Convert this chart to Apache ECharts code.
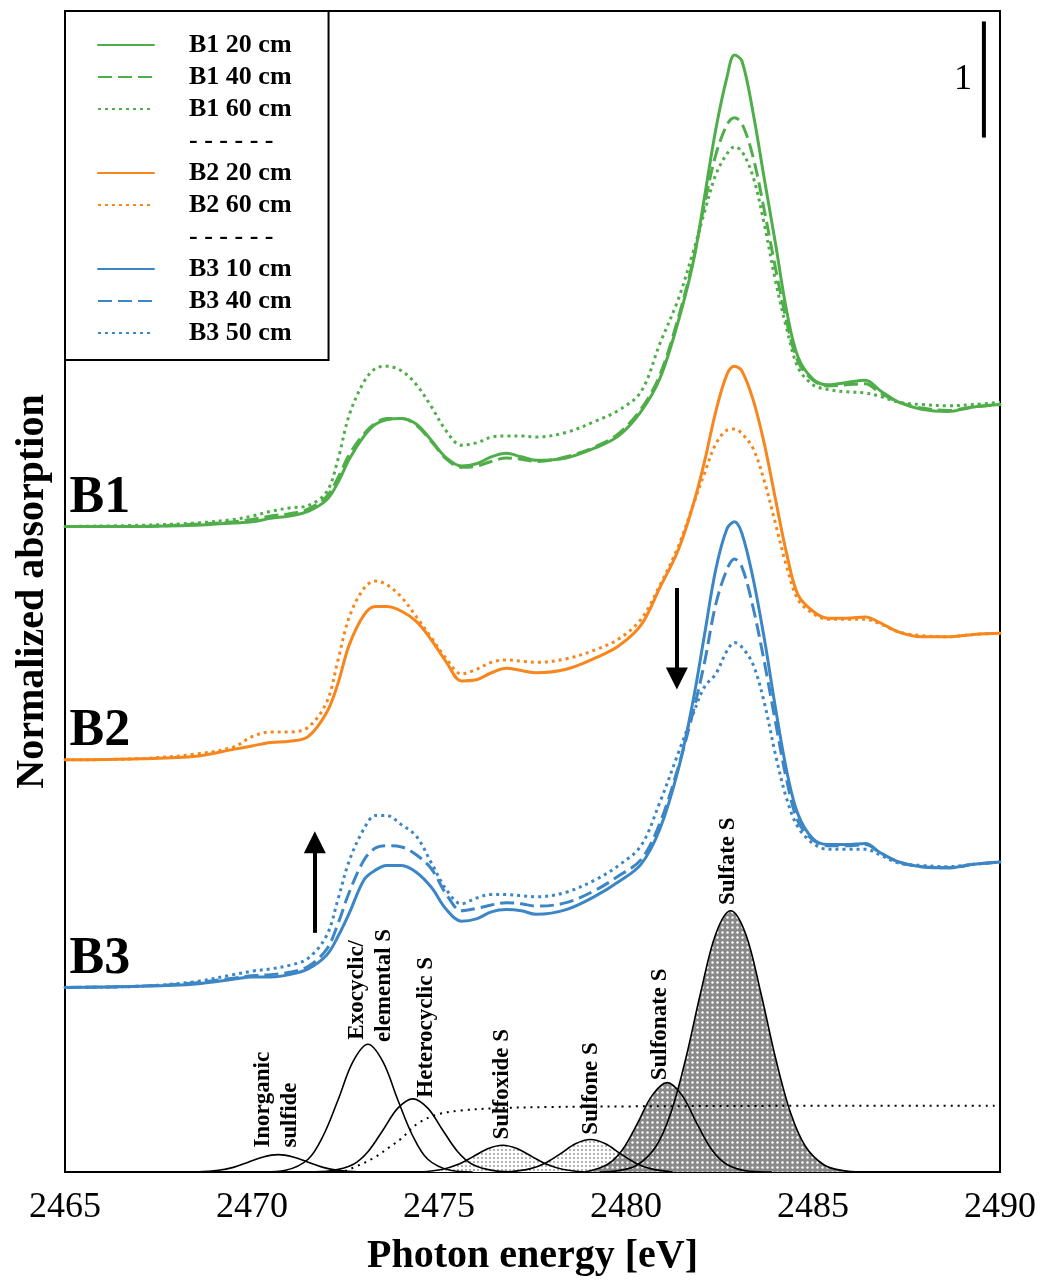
<!DOCTYPE html>
<html>
<head>
<meta charset="utf-8">
<script src="https://cdn.jsdelivr.net/npm/echarts/dist/echarts.min.js"></script>
<style>
html,body{margin:0;padding:0;background:#fff;}
#chart{width:1040px;height:1280px;}
</style>
</head>
<body>
<div id="chart"></div>
<script>
// ---------------- DATA ----------------
const xTicks = [2465, 2470, 2475, 2480, 2485, 2490];

// common photon-energy grid (eV) for the measured spectra
const energy = [2465, 2467, 2468.5, 2469.5, 2470, 2470.5, 2471, 2471.5, 2472, 2472.3, 2472.6, 2473, 2473.3, 2473.6, 2474, 2474.4, 2474.8, 2475.2, 2475.6, 2476, 2476.4, 2476.8, 2477.2, 2477.6, 2478.4, 2479.2, 2479.8, 2480.4, 2480.9, 2481.4, 2481.8, 2482.1, 2482.4, 2482.7, 2482.9, 2483.1, 2483.4, 2483.7, 2484, 2484.3, 2484.6, 2485, 2485.4, 2485.9, 2486.4, 2486.8, 2487.3, 2487.9, 2488.6, 2489.3, 2490];

// normalized absorption of each sample (before vertical offset)
const B1_20 = [0.00,0.00,0.01,0.03,0.04,0.07,0.09,0.13,0.23,0.38, 0.58,0.78,0.88,0.92,0.93,0.88,0.74,0.59,0.52,0.54, 0.60,0.63,0.60,0.57,0.59,0.68,0.78,0.99,1.27,1.77, 2.28,2.84,3.42,3.87,4.06,4.01,3.56,2.99,2.43,1.85, 1.46,1.27,1.22,1.24,1.26,1.17,1.07,1.01,0.99,1.03, 1.05];
const B1_40 = [0.00,0.00,0.02,0.04,0.06,0.09,0.11,0.15,0.26,0.42, 0.62,0.80,0.89,0.93,0.93,0.87,0.73,0.58,0.51,0.52, 0.56,0.59,0.58,0.56,0.60,0.69,0.80,1.01,1.30,1.80, 2.30,2.78,3.20,3.46,3.52,3.47,3.18,2.72,2.22,1.76, 1.42,1.26,1.21,1.22,1.23,1.15,1.07,1.02,1.00,1.03, 1.05];
const B1_60 = [0.00,0.01,0.03,0.06,0.09,0.13,0.16,0.18,0.30,0.58, 0.96,1.25,1.36,1.38,1.34,1.22,1.03,0.82,0.70,0.72, 0.77,0.78,0.78,0.77,0.81,0.91,1.00,1.16,1.57,1.96, 2.37,2.71,3.03,3.21,3.27,3.23,3.01,2.60,2.11,1.70, 1.37,1.22,1.18,1.16,1.15,1.12,1.07,1.05,1.04,1.05, 1.07];
const B2_20 = [0.00,0.01,0.03,0.09,0.12,0.15,0.16,0.20,0.41,0.66, 0.99,1.25,1.32,1.32,1.28,1.19,1.03,0.84,0.68,0.69, 0.75,0.79,0.77,0.75,0.78,0.88,0.98,1.16,1.48,1.81, 2.20,2.57,3.00,3.32,3.39,3.35,3.10,2.72,2.24,1.77, 1.42,1.28,1.22,1.22,1.23,1.18,1.10,1.06,1.06,1.08, 1.09];
const B2_60 = [0.00,0.01,0.05,0.11,0.20,0.24,0.24,0.28,0.50,0.86, 1.23,1.48,1.54,1.51,1.40,1.23,1.05,0.87,0.74,0.78, 0.84,0.86,0.85,0.84,0.87,0.95,1.04,1.21,1.50,1.84, 2.20,2.47,2.72,2.84,2.85,2.81,2.68,2.40,2.03,1.66, 1.38,1.26,1.21,1.21,1.21,1.17,1.10,1.07,1.06,1.08, 1.09];
const B3_10 = [0.00,0.01,0.03,0.07,0.09,0.09,0.11,0.16,0.28,0.44, 0.64,0.93,1.01,1.05,1.05,0.99,0.86,0.67,0.57,0.59, 0.65,0.67,0.66,0.63,0.67,0.79,0.91,1.06,1.36,1.88, 2.48,3.04,3.60,3.95,4.01,3.91,3.52,3.00,2.40,1.86, 1.49,1.28,1.23,1.23,1.24,1.16,1.08,1.04,1.03,1.06, 1.08];
const B3_40 = [0.00,0.01,0.04,0.08,0.10,0.11,0.13,0.18,0.33,0.55, 0.82,1.10,1.20,1.22,1.21,1.14,1.02,0.80,0.66,0.68, 0.71,0.73,0.72,0.70,0.73,0.84,0.96,1.10,1.41,1.90, 2.38,2.80,3.30,3.60,3.69,3.62,3.27,2.80,2.28,1.78, 1.43,1.27,1.22,1.22,1.23,1.16,1.08,1.04,1.03,1.06, 1.08];
const B3_50 = [0.00,0.01,0.05,0.11,0.14,0.16,0.19,0.25,0.45,0.76, 1.09,1.37,1.48,1.48,1.40,1.30,1.07,0.84,0.72,0.77, 0.80,0.80,0.79,0.78,0.82,0.93,1.05,1.22,1.59,2.02, 2.36,2.59,2.70,2.90,2.97,2.93,2.78,2.45,2.00,1.62, 1.38,1.24,1.19,1.19,1.19,1.14,1.07,1.05,1.04,1.06, 1.08];

// vertical offsets of the stacked spectra (absorption units)
const offsetB1 = 5.56;
const offsetB2 = 3.55;
const offsetB3 = 1.59;

// fitted components (bottom), [eV, absorption]
const compInorganic = [[2468.5,0],[2469.1,0.015],[2469.5,0.04],[2469.9,0.085],[2470.3,0.13],[2470.7,0.15],[2471.1,0.13],[2471.5,0.085],[2471.9,0.04],[2472.3,0.015],[2472.9,0]];
const compExocyclic = [[2470.3,0],[2470.9,0.015],[2471.5,0.11],[2471.9,0.31],[2472.3,0.62],[2472.7,0.95],[2473.1,1.10],[2473.5,0.95],[2473.9,0.62],[2474.3,0.31],[2474.7,0.11],[2475.3,0.015],[2475.9,0]];
const compHeterocyclic = [[2471.5,0],[2472.1,0.01],[2472.7,0.065],[2473.1,0.175],[2473.5,0.36],[2473.9,0.55],[2474.3,0.63],[2474.7,0.55],[2475.1,0.36],[2475.5,0.175],[2475.9,0.065],[2476.5,0.01],[2477.1,0]];
const compSulfoxide = [[2474.5,0],[2475.1,0.024],[2475.5,0.064],[2475.9,0.13],[2476.3,0.20],[2476.7,0.23],[2477.1,0.20],[2477.5,0.13],[2477.9,0.064],[2478.3,0.024],[2478.9,0]];
const compSulfone = [[2476.85,0],[2477.45,0.029],[2477.85,0.078],[2478.25,0.158],[2478.65,0.243],[2479.05,0.28],[2479.45,0.243],[2479.85,0.158],[2480.25,0.078],[2480.65,0.029],[2481.25,0]];
const compSulfonate = [[2478.9,0],[2479.5,0.065],[2479.9,0.19],[2480.3,0.415],[2480.7,0.66],[2481.1,0.77],[2481.5,0.66],[2481.9,0.415],[2482.3,0.19],[2482.7,0.065],[2483.3,0.007],[2483.9,0]];
const compSulfate = [[2479.3,0],[2479.8,0.012],[2480.3,0.06],[2480.8,0.22],[2481.2,0.51],[2481.6,0.98],[2482.0,1.55],[2482.4,2.05],[2482.8,2.25],[2483.2,2.05],[2483.6,1.55],[2484.0,0.98],[2484.4,0.51],[2484.8,0.22],[2485.3,0.06],[2485.8,0.012],[2486.3,0]];
const edgeStep = [[2465,0],[2472.3,0],[2472.8,0.05],[2473.3,0.13],[2473.7,0.22],[2474.0,0.29],[2474.4,0.41],[2474.9,0.49],[2475.6,0.53],[2476.6,0.55],[2478,0.56],[2480,0.565],[2485,0.57],[2490,0.57]];

// scale bar (1 absorption unit) and arrows
const scaleBar = [[2489.57, 8.91], [2489.57, 9.91]];
const arrowDown = [[2481.36, 5.03], [2481.36, 4.25]];
const arrowUp = [[2471.68, 2.06], [2471.68, 2.84]];

const legendNames = ['B1 20 cm','B1 40 cm','B1 60 cm','- - - - - -','B2 20 cm','B2 60 cm','- - - - - -\u200b','B3 10 cm','B3 40 cm','B3 50 cm'];

// ---------------- CHART ----------------
const SERIF = '"Liberation Serif", "Times New Roman", serif';
const GREEN = '#4fae4a', ORANGE = '#f7861c', BLUE = '#3c86c6';
const DASH = [14, 6], DOT = [3, 4];

function dotPattern(bg, dot, size, r) {
  const c = document.createElement('canvas');
  c.width = size; c.height = size;
  const g = c.getContext('2d');
  g.fillStyle = bg; g.fillRect(0, 0, size, size);
  g.fillStyle = dot; g.beginPath(); g.arc(size / 2, size / 2, r, 0, Math.PI * 2); g.fill();
  return c;
}
const darkFill = {image: dotPattern('#8a8a8a', '#ffffff', 5, 1.2), repeat: 'repeat'};
const lightFill = {image: dotPattern('#ffffff', '#8f8f8f', 4, 0.9), repeat: 'repeat'};

function spectrum(name, vals, offset, color, type, z) {
  return {
    name: name, type: 'line', smooth: 0.35, symbol: 'none', z: z,
    data: energy.map((e, i) => [e, +(vals[i] + offset).toFixed(3)]),
    lineStyle: {color: color, width: 3, type: type, cap: type === 'solid' ? 'round' : 'butt'},
    itemStyle: {color: color},
    emphasis: {disabled: true}, silent: true
  };
}
function sep(name) {
  return {name: name, type: 'line', data: [], symbol: 'none',
    lineStyle: {color: 'rgba(0,0,0,0)', width: 0}, itemStyle: {color: 'rgba(0,0,0,0)'}};
}
function compLine(name, data, z, dashed) {
  return {name: name, type: 'line', smooth: 0.35, symbol: 'none', z: z, data: data, silent: true,
    lineStyle: {color: '#000', width: dashed ? 2 : 1.6, type: dashed ? [2, 5] : 'solid'},
    itemStyle: {color: '#000'}, emphasis: {disabled: true}};
}
function compArea(name, data, fill) {
  return {name: name, type: 'line', smooth: 0.35, symbol: 'none', z: 1, data: data, silent: true,
    lineStyle: {width: 0, color: 'rgba(0,0,0,0)'}, areaStyle: {color: fill, opacity: 1},
    emphasis: {disabled: true}};
}

const series = [
  spectrum('B1 60 cm', B1_60, offsetB1, GREEN, DOT, 3),
  spectrum('B1 40 cm', B1_40, offsetB1, GREEN, DASH, 3),
  spectrum('B1 20 cm', B1_20, offsetB1, GREEN, 'solid', 4),
  sep(legendNames[3]),
  spectrum('B2 60 cm', B2_60, offsetB2, ORANGE, DOT, 3),
  spectrum('B2 20 cm', B2_20, offsetB2, ORANGE, 'solid', 4),
  sep(legendNames[6]),
  spectrum('B3 50 cm', B3_50, offsetB3, BLUE, DOT, 3),
  spectrum('B3 40 cm', B3_40, offsetB3, BLUE, DASH, 3),
  spectrum('B3 10 cm', B3_10, offsetB3, BLUE, 'solid', 4),
  compArea('a-sulfoxide', compSulfoxide, lightFill),
  compArea('a-sulfone', compSulfone, lightFill),
  compArea('a-sulfonate', compSulfonate, darkFill),
  compArea('a-sulfate', compSulfate, darkFill),
  compLine('Inorganic sulfide', compInorganic, 3),
  compLine('Exocyclic/elemental S', compExocyclic, 3),
  compLine('Heterocyclic S', compHeterocyclic, 3),
  compLine('Sulfoxide S', compSulfoxide, 3),
  compLine('Sulfone S', compSulfone, 3),
  compLine('Sulfonate S', compSulfonate, 3),
  compLine('Sulfate S', compSulfate, 3),
  compLine('edge step', edgeStep, 3, true),
  {
    name: 'scale', type: 'line', symbol: 'none', z: 5, silent: true, data: scaleBar,
    lineStyle: {color: '#000', width: 4},
    markLine: {
      silent: true, symbol: ['none', 'triangle'], symbolSize: [22, 22], animation: false,
      label: {show: false}, emphasis: {disabled: true},
      lineStyle: {color: '#000', width: 4, type: 'solid'}, itemStyle: {color: '#000'},
      data: [
        [{coord: arrowDown[0]}, {coord: arrowDown[1]}],
        [{coord: arrowUp[0]}, {coord: arrowUp[1]}]
      ]
    }
  }
];

const chart = echarts.init(document.getElementById('chart'), null, {renderer: 'canvas'});
const option = {
  animation: false,
  backgroundColor: '#fff',
  grid: {left: 65, right: 40, top: 11, bottom: 108, show: true, borderColor: '#000', borderWidth: 2,
         backgroundColor: 'transparent', containLabel: false, outerBoundsMode: 'none'},
  xAxis: {
    type: 'value', min: 2465, max: 2490, interval: 5,
    axisLine: {show: false}, axisTick: {show: false}, splitLine: {show: false},
    axisLabel: {color: '#000', fontFamily: SERIF, fontSize: 36, margin: 18,
      showMinLabel: true, showMaxLabel: true,
      formatter: (v) => String(v)},
    name: 'Photon energy [eV]', nameLocation: 'middle', nameGap: 65, nameMoveOverlap: false,
    nameTextStyle: {color: '#000', fontFamily: SERIF, fontSize: 40, fontWeight: 'bold'}
  },
  yAxis: {
    type: 'value', min: 0, max: 10,
    axisLine: {show: false}, axisTick: {show: false}, splitLine: {show: false}, axisLabel: {show: false},
    name: 'Normalized absorption', nameLocation: 'middle', nameGap: 12, nameRotate: 90, nameMoveOverlap: false,
    nameTextStyle: {color: '#000', fontFamily: SERIF, fontSize: 40, fontWeight: 'bold'}
  },
  legend: {
    orient: 'vertical', left: 65, top: 11,
    padding: [21, 37, 14, 32],
    itemWidth: 56, itemHeight: 14, itemGap: 6,
    backgroundColor: '#fff', borderColor: '#000', borderWidth: 2, borderRadius: 0,
    selectedMode: false,
    itemStyle: {opacity: 0},
    textStyle: {fontFamily: SERIF, fontWeight: 'bold', fontSize: 26, color: '#000', padding: [0, 0, 0, 30]},
    data: legendNames.map(n => ({name: n}))
  },
  series: series
};
chart.setOption(option);

// ---------------- text annotations positioned in data coordinates ----------------
const px = (p) => chart.convertToPixel({gridIndex: 0}, p);
const groupLabels = [
  {text: 'B1', at: [2465.12, offsetB1 + 0.02]},
  {text: 'B2', at: [2465.12, offsetB2 + 0.02]},
  {text: 'B3', at: [2465.12, offsetB3 + 0.02]}
];
const compLabels = [
  {text: 'Inorganic', at: [2470.29, 0.21]},
  {text: 'sulfide', at: [2471.02, 0.21]},
  {text: 'Exocyclic/', at: [2472.81, 1.14]},
  {text: 'elemental S', at: [2473.53, 1.12]},
  {text: 'Heterocyclic S', at: [2474.65, 0.64]},
  {text: 'Sulfoxide S', at: [2476.68, 0.28]},
  {text: 'Sulfone S', at: [2479.06, 0.32]},
  {text: 'Sulfonate S', at: [2480.91, 0.79]},
  {text: 'Sulfate S', at: [2482.73, 2.30]}
];
const graphics = [];
groupLabels.forEach(l => {
  const p = px(l.at);
  graphics.push({type: 'text', x: p[0], y: p[1], z: 100, silent: true,
    style: {text: l.text, font: 'bold 52px ' + SERIF, fill: '#000', align: 'left', verticalAlign: 'bottom'}});
});
compLabels.forEach(l => {
  const p = px(l.at);
  graphics.push({type: 'text', x: p[0], y: p[1], rotation: Math.PI / 2, z: 100, silent: true,
    style: {text: l.text, font: 'bold 23px ' + SERIF, fill: '#000', align: 'left', verticalAlign: 'middle'}});
});
const sb = px([scaleBar[0][0], (scaleBar[0][1] + scaleBar[1][1]) / 2]);
graphics.push({type: 'text', x: sb[0] - 21, y: sb[1], z: 100, silent: true,
  style: {text: '1', font: '36px ' + SERIF, fill: '#000', align: 'center', verticalAlign: 'middle'}});
chart.setOption({graphic: graphics});
</script>
</body>
</html>
